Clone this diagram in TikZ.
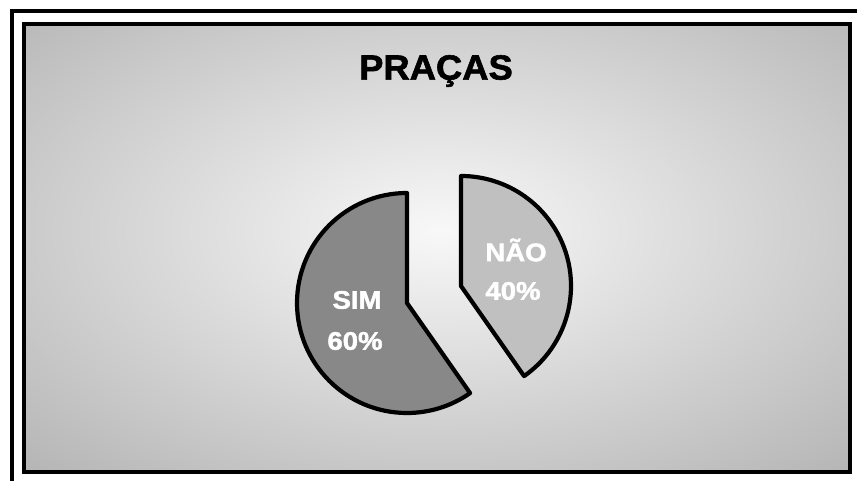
\documentclass[tikz,border=0pt]{standalone}
\usepackage{fontspec}
\setmainfont{Liberation Sans}
\newfontfamily\heavyfont[FakeBold=1.6]{Liberation Sans Bold}
\definecolor{bggray}{RGB}{158,158,158}
\definecolor{bgwhite}{RGB}{248,248,248}
\definecolor{simgray}{RGB}{136,136,136}
\definecolor{naogray}{RGB}{192,192,192}
\begin{document}
\begin{tikzpicture}[x=1pt,y=1pt,
  frameline/.style={line width=4pt},
  slice/.style={draw=black, line width=4.2pt, line join=round},
  titletext/.style={font=\heavyfont\fontsize{35}{35}\selectfont, xscale=1.04, text=black},
  pielabel/.style={font=\heavyfont\fontsize{25.5}{25.5}\selectfont, xscale=1.08, text=white, align=center}]
\useasboundingbox (0,0) rectangle (857,481);
\fill[white] (0,0) rectangle (857,481);
% outer frame (cut by the page at right and bottom)
\draw[frameline] (12,0) -- (12,470) -- (857,470);
% inner panel with gradient
\begin{scope}
  \clip (24,9) rectangle (850,457);
  \fill[bggray] (24,9) rectangle (850,457);
  \shade[inner color=bgwhite, outer color=bggray] (440,250) ellipse [x radius=820, y radius=440];
\end{scope}
\draw[frameline] (24,9) rectangle (850,457);
% title
\node[titletext] (title) at (436,410) {PRAÇAS};
% pie slices
\coordinate (simc) at (407,178);
\coordinate (naoc) at (461,195);
\filldraw[slice, fill=simgray] (simc) -- ++(90:110) arc[start angle=90, end angle=305, radius=110] -- cycle;
\filldraw[slice, fill=naogray] (naoc) -- ++(-55:110) arc[start angle=-55, end angle=90, radius=110] -- cycle;
% labels
\node[pielabel] (sim) at (357,181) {SIM};
\node[pielabel] (simp) at (355,140) {60\%};
\node[pielabel] (nao) at (516,231) {NÃO};
\node[pielabel] (naop) at (513,190) {40\%};
\end{tikzpicture}
\end{document}
